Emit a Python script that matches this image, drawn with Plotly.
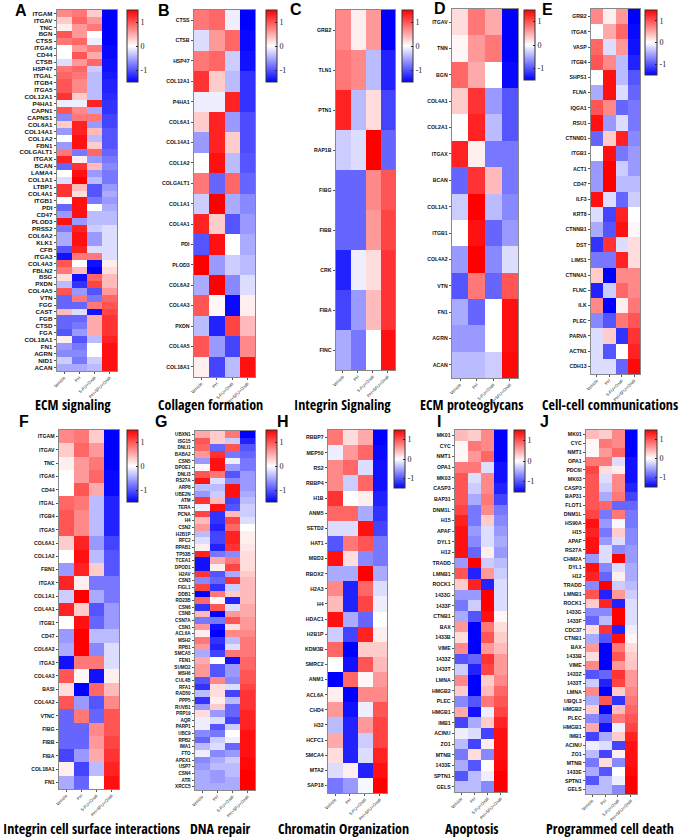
import plotly.graph_objects as go

W, H = 681, 839
cols = ["Vehicle", "PH", "5-FU+Oxali", "PH+5FU+Oxali"]

# ---------------- data ----------------
A_rows = ["ITGAM","ITGAV","TNC","BGN","CTSS","ITGA6","CD44","CTSB","HSP47","ITGAL","ITGB4","ITGA5","COL12A1","P4HA1","CAPN1","CAPNS1","COL6A1","COL14A1","COL1A2","FBN1","COLGALT1","ITGAX","BCAN","LAMA4","COL1A1","LTBP1","COL4A1","ITGB1","PDI","CD47","PLOD3","PRSS2","COL6A2","KLK1","CFB","ITGA3","COL4A3","FBLN2","BSG","PXDN","COL4A5","VTN","FGG","CAST","FGB","CTSD","FGA","COL18A1","FN1","AGRN","NID1","ACAN"]
A_vals = [[0.7,0.8,0.3,-1.5],[0.3,0.9,0.6,-1.5],[0.1,0.6,0.8,-1.5],[1.0,0.6,0.0,-1.5],[0.8,0.9,-0.1,-1.5],[0.0,0.6,0.8,-1.45],[0.0,1.0,0.5,-1.45],[-0.2,0.6,0.9,-1.4],[0.8,0.9,-0.3,-1.4],[0.9,0.8,-0.4,-1.35],[1.0,0.7,-0.4,-1.3],[1.0,0.7,-0.4,-1.3],[1.2,0.3,-0.4,-1.25],[-0.1,-0.1,1.3,-1.2],[1.0,0.7,-0.5,-1.2],[-0.7,0.8,0.8,-1.1],[0.3,1.3,-0.6,-1.1],[-0.6,1.3,0.4,-1.0],[0.0,1.4,-0.4,-1.0],[-0.6,1.4,0.3,-1.0],[0.8,-0.8,0.9,-0.9],[1.3,0.1,-0.6,-0.8],[-0.9,1.2,0.4,-0.7],[0.0,1.4,-0.6,-0.8],[-0.2,1.5,-0.4,-0.8],[1.2,0.4,-1.0,-0.6],[1.2,0.2,-1.0,-0.5],[0.0,1.4,-0.8,-0.6],[-0.9,1.4,0.0,-0.5],[-0.6,1.4,-0.4,-0.4],[1.4,-0.6,-0.4,-0.4],[-0.8,1.3,-0.3,-0.2],[-0.5,1.4,-0.6,-0.2],[-0.5,1.4,-0.6,-0.2],[-1.0,1.3,-0.2,-0.2],[-1.4,0.8,0.8,-0.2],[1.0,0.0,-1.4,0.1],[0.8,0.4,-1.5,0.2],[0.2,-1.4,0.9,0.4],[-0.4,-1.2,1.1,0.4],[1.0,-0.6,-1.0,0.6],[-0.9,0.8,-0.8,0.9],[-0.9,-0.9,0.8,1.0],[0.4,-0.2,-1.4,1.1],[-0.9,-0.9,0.5,1.2],[-0.9,-0.8,0.5,1.2],[-1.0,-0.6,0.5,1.2],[0.1,-1.0,-0.4,1.3],[-0.6,-0.8,0.0,1.4],[-0.7,-0.7,0.0,1.4],[-0.3,-0.8,-0.3,1.4],[-0.5,-0.5,-0.4,1.4]]

B_rows = ["CTSS","CTSB","HSP47","COL12A1","P4HA1","COL6A1","COL14A1","COL1A2","COLGALT1","COL1A1","COL4A1","PDI","PLOD3","COL6A2","COL4A3","PXDN","COL4A5","COL18A1"]
B_vals = [[0.8,0.9,-0.1,-1.5],[-0.2,0.6,0.9,-1.45],[0.8,0.9,-0.3,-1.4],[1.2,0.3,-0.4,-1.2],[-0.1,-0.1,1.3,-1.2],[0.3,1.3,-0.6,-1.05],[-0.6,1.3,0.3,-1.05],[0.0,1.4,-0.4,-1.0],[0.8,-0.9,0.9,-0.9],[-0.3,1.5,-0.5,-0.7],[1.3,0.3,-1.0,-0.6],[-1.0,1.4,0.0,-0.5],[1.5,-0.6,-0.3,-0.4],[-0.5,1.5,-0.7,-0.2],[1.0,0.05,-1.45,0.1],[-0.4,-1.3,1.1,0.4],[1.0,-0.6,-1.1,0.7],[0.1,-1.1,-0.4,1.4]]

C_rows = ["GRB2","TLN1","PTN1","RAP1B","FIBG","FIBB","CRK","FIBA","FINC"]
C_vals = [[0.7,0.1,0.6,-1.5],[0.8,0.7,-0.4,-1.3],[1.3,-0.4,0.2,-1.1],[-0.3,-0.2,1.5,-0.9],[-0.9,-0.9,0.7,1.0],[-0.9,-0.9,0.6,1.1],[-1.3,-0.1,0.2,1.2],[-1.1,-0.6,0.4,1.2],[-0.5,-0.8,0.0,1.4]]

D_rows = ["ITGAV","TNN","BGN","COL4A1","COL2A1","ITGAX","BCAN","COL1A1","ITGB1","COL4A2","VTN","FN1","AGRN","ACAN"]
D_vals = [[0.2,0.8,0.5,-1.5],[0.05,0.6,0.8,-1.5],[0.9,0.5,0.0,-1.45],[0.3,1.2,-0.6,-1.0],[0.0,1.3,-0.4,-1.0],[1.3,0.1,-0.8,-0.8],[-0.9,1.2,0.4,-0.8],[-0.3,1.5,-0.4,-0.7],[0.0,1.4,-0.9,-0.6],[-0.6,1.5,-0.7,-0.2],[-1.0,0.8,-0.9,1.0],[-0.5,-0.9,0.0,1.4],[-0.6,-0.6,0.0,1.4],[-0.4,-0.4,-0.3,1.45]]

E_rows = ["GRB2","ITGA6","VASP","ITGB4","SHPS1","FLNA","IQGA1","RSU1","CTNND1","ITGB1","ACT1","CD47","ILF3","KRT8","CTNNB1","DST","LIMS1","CTNNA1","FLNC","ILK","PLEC","PARVA","ACTN1","CDH13"]
E_vals = [[0.7,0.1,0.6,-1.5],[0.0,0.5,0.9,-1.45],[0.9,-0.2,0.6,-1.4],[1.0,0.7,-0.4,-1.3],[0.0,1.4,-0.4,-1.0],[-0.5,1.4,-0.2,-0.9],[1.0,0.7,-0.9,-0.8],[1.4,-0.6,-0.2,-0.8],[-0.9,0.3,1.3,-0.7],[0.0,1.4,-0.8,-0.6],[-0.6,1.5,-0.3,-0.6],[-0.6,1.5,-0.4,-0.4],[1.4,-0.2,-0.9,-0.3],[-0.2,-1.1,1.3,0.0],[-0.5,-1.0,1.4,0.05],[-1.2,1.2,-0.2,0.2],[-0.8,-0.8,1.3,0.2],[0.3,-1.5,0.7,0.7],[-1.3,-0.3,0.9,0.7],[0.7,-1.5,0.1,0.8],[-0.7,-1.0,0.8,1.0],[-0.2,0.3,-1.2,1.2],[-0.2,-1.0,0.0,1.3],[-0.2,-0.2,-0.9,1.45]]

F_rows = ["ITGAM","ITGAV","TNC","ITGA6","CD44","ITGAL","ITGB4","ITGA5","COL6A1","COL1A2","FBN1","ITGAX","COL1A1","COL4A1","ITGB1","CD47","COL6A2","ITGA3","COL4A3","BASI","COL4A2","VTNC","FIBG","FIBB","FIBA","COL18A1","FN1"]
F_vals = [[0.7,0.8,0.3,-1.5],[0.3,0.9,0.6,-1.5],[0.1,0.6,0.8,-1.5],[0.0,0.6,0.9,-1.45],[0.0,1.0,0.5,-1.45],[0.9,0.8,-0.4,-1.3],[1.0,0.7,-0.4,-1.3],[1.0,0.7,-0.4,-1.3],[0.3,1.3,-0.6,-1.1],[0.0,1.4,-0.4,-1.0],[-0.6,1.3,0.3,-1.0],[1.3,0.1,-0.8,-0.8],[-0.3,1.5,-0.5,-0.8],[1.3,0.3,-1.0,-0.6],[0.0,1.4,-0.9,-0.6],[-0.6,1.5,-0.4,-0.4],[-0.5,1.5,-0.7,-0.2],[-1.4,0.8,0.8,-0.2],[1.0,0.05,-1.4,0.1],[0.2,-1.5,0.9,0.4],[1.0,-0.6,-1.0,0.7],[-0.9,0.8,-0.9,1.0],[-0.9,-0.9,0.7,1.0],[-0.9,-0.9,0.6,1.1],[-1.1,-0.6,0.5,1.2],[0.1,-1.1,-0.4,1.3],[-0.5,-0.9,0.0,1.4]]

G_rows = ["UBXN1","ISG15","DNLI1","BABA2","CSN5","DPOE1","DNLI3","RS27A","ARP8","UBE2N","ATM","TERA","PCNA","H4","CSN2","H2B1P","RFC2","RPAB1","TP53B","TCEA1","DPOD1","H2AV","CSN3","FIGL1","DDB1","RD23B","CSN6","CSN8","CSN7A","CSN1","ACL6A","MSH2","RPB1","SMCA5","FEN1","SUMO2","MSH6","CUL4B","RFA1","RAD50","PPP5","RUVB1","PRP19","AQR","PARP1","UBC9","RPB2","IMA1","FTO","APEX1","USP7","CSN4","ATR","XRCC5"]
G_vals = [[0.5,0.3,0.8,-1.5],[1.0,0.3,-0.3,-1.3],[0.9,-0.9,1.0,-1.0],[0.6,1.2,-0.8,-0.9],[-0.6,1.4,-0.1,-0.8],[0.05,1.4,-0.6,-0.8],[1.0,0.8,-1.0,-0.6],[1.4,-0.2,-0.7,-0.6],[-0.4,-0.4,1.4,-0.6],[-0.6,-0.3,1.4,-0.5],[1.2,0.4,-1.1,-0.4],[-0.1,1.4,-1.0,-0.3],[1.1,-1.2,0.4,-0.3],[0.4,-1.2,1.1,-0.2],[0.6,-1.3,0.9,0.0],[-0.4,-1.1,1.3,0.1],[-0.2,-1.1,1.3,0.1],[0.1,-1.3,1.2,0.15],[1.3,-0.8,-0.7,0.2],[-1.4,0.5,0.8,0.2],[-1.4,0.1,1.1,0.2],[1.2,-1.0,-0.5,0.3],[-0.7,-0.9,1.2,0.4],[1.1,-1.2,-0.3,0.4],[-1.5,0.8,0.3,0.4],[0.9,0.05,-1.3,0.4],[-1.2,1.0,-0.2,0.5],[0.4,-1.5,0.6,0.5],[-0.8,-0.8,1.0,0.6],[0.6,-1.4,0.2,0.6],[0.1,-1.5,0.7,0.7],[0.8,-1.2,-0.4,0.8],[0.6,-1.3,-0.2,0.8],[-0.5,-1.1,0.8,0.8],[0.5,0.0,-1.4,0.9],[0.6,-1.0,-0.6,0.9],[0.6,-1.0,-0.6,1.0],[-1.0,0.7,-0.7,1.0],[-1.2,0.2,-0.2,1.1],[-0.4,0.2,-1.1,1.2],[-1.2,0.1,-0.4,1.2],[-0.6,0.3,-0.9,1.2],[0.2,-0.6,-0.9,1.3],[-0.1,-0.2,-1.1,1.3],[-0.1,-1.0,-0.3,1.3],[-0.7,-0.8,0.0,1.4],[-0.9,-0.3,-0.1,1.4],[-0.4,-0.2,-0.9,1.4],[-0.1,-0.7,-0.6,1.4],[-0.7,-0.5,-0.3,1.45],[-0.6,-0.4,-0.4,1.45],[-0.5,-0.6,-0.4,1.5],[-0.5,-0.6,-0.5,1.5],[-0.5,-0.5,-0.5,1.5]]

H_rows = ["RBBP7","MEP50","RS2","RBBP4","H1B","ANM5","SETD2","HAT1","MBD3","RBOX2","H2A3","H4","HDAC1","H2B1P","KDM3B","SMRC2","ANM1","ACL6A","CHD4","H32","HCFC1","SMCA4","MTA2","SAP18"]
H_vals = [[0.8,0.2,0.5,-1.5],[-0.1,0.6,0.9,-1.45],[0.7,0.9,-0.2,-1.4],[0.7,-0.3,0.9,-1.4],[1.2,0.0,0.1,-1.3],[0.9,0.9,-0.5,-1.2],[-0.2,-0.2,1.4,-1.1],[-1.0,0.8,1.0,-0.8],[1.4,0.2,-0.7,-0.8],[-0.5,-0.5,1.5,-0.5],[0.7,-1.3,0.9,-0.2],[0.4,-1.3,1.1,-0.1],[1.4,-0.5,-0.9,0.0],[-0.3,-1.1,1.3,0.1],[0.9,-1.5,0.3,0.3],[0.0,-1.4,1.0,0.4],[-1.5,0.9,0.05,0.6],[0.1,-1.5,0.7,0.7],[0.6,-1.4,-0.1,1.0],[-0.4,-1.3,0.6,1.1],[0.5,-1.3,-0.3,1.1],[0.2,-1.3,-0.2,1.3],[-0.2,0.1,-1.3,1.4],[-0.8,-0.6,-0.05,1.5]]

I_rows = ["MK01","CYC","NMT1","OPA1","MK03","CASP3","BAP31","DNM1L","H15","APAF","DYL1","H12","TRADD","LMNB1","ROCK1","1433G","1433F","CTNB1","BAX","1433B","VIME","1433Z","1433T","LMNA","HMGB2","PLEC","HMGB1","IMB1","ACINU","ZO1","MTNB","1433E","SPTN1","GELS"]
I_vals = [[0.4,0.3,0.7,-1.5],[0.05,0.8,0.7,-1.5],[0.05,0.6,0.9,-1.5],[0.8,0.8,-0.2,-1.4],[1.0,-0.2,0.7,-1.4],[1.0,-0.3,0.7,-1.3],[1.0,-0.5,0.8,-1.1],[1.1,-0.8,0.7,-0.8],[1.3,-0.8,0.3,-0.7],[1.4,-0.6,-0.2,-0.6],[1.4,-0.7,-0.2,-0.5],[1.4,-0.9,0.1,-0.6],[-0.6,1.5,-0.3,-0.4],[1.0,-1.3,0.6,-0.3],[0.3,1.3,-1.3,-0.2],[-0.6,-0.6,1.5,-0.2],[-0.8,-0.3,1.5,-0.2],[-0.5,-1.0,1.4,0.05],[0.6,-1.5,0.8,0.2],[0.2,-1.5,1.0,0.3],[0.7,-1.5,0.6,0.4],[-1.0,-0.9,1.2,0.6],[-0.3,-1.3,1.1,0.6],[0.7,-1.5,0.3,0.7],[0.3,-1.5,0.4,0.9],[-0.7,-1.0,0.8,1.0],[0.5,-1.4,-0.1,1.1],[-1.1,-0.5,0.3,1.3],[-0.1,-0.2,-1.1,1.4],[-0.4,-1.1,0.1,1.4],[-0.8,0.2,-0.7,1.4],[-0.5,-1.0,0.0,1.45],[-1.0,-0.4,-0.1,1.5],[-0.4,-0.4,-0.7,1.5]]

J_rows = ["MK01","CYC","NMT1","OPA1","PDC6I","MK03","CASP3","BAP31","FLOT1","DNM1L","HS90A","H15","APAF","RS27A","CHM2A","DYL1","H12","TRADD","LMNB1","ROCK1","1433G","1433F","CDC37","CTNB1","BAX","1433B","VIME","1433Z","1433T","LMNA","UBQL3","HMGB2","PLEC","HMGB1","IMB1","ACINU","ZO1","MTNB","1433E","SPTN1","GELS"]
J_vals = [[0.4,0.3,0.7,-1.5],[0.05,0.8,0.7,-1.5],[0.05,0.6,0.9,-1.5],[0.8,0.8,-0.2,-1.4],[1.1,0.2,0.1,-1.4],[1.0,-0.2,0.7,-1.4],[1.0,-0.3,0.7,-1.3],[1.0,-0.5,0.8,-1.1],[1.0,0.9,-0.9,-0.9],[1.1,-0.8,0.8,-0.8],[1.4,-0.6,-0.05,-0.8],[1.3,-0.8,0.3,-0.7],[1.4,-0.6,-0.2,-0.7],[1.4,-0.2,-0.7,-0.6],[-0.6,-0.2,1.5,-0.6],[1.4,-0.7,-0.2,-0.5],[1.3,-0.9,0.1,-0.5],[-0.7,1.5,-0.3,-0.4],[1.0,-1.3,0.6,-0.3],[0.3,1.3,-1.3,-0.2],[-0.7,-0.7,1.5,-0.2],[-0.9,-0.4,1.5,-0.2],[0.2,1.2,-1.3,-0.1],[-0.5,-1.0,1.4,0.05],[0.6,-1.5,0.8,0.2],[0.2,-1.5,1.0,0.3],[0.7,-1.5,0.6,0.35],[-1.0,-0.9,1.2,0.6],[-0.3,-1.3,1.1,0.6],[0.7,-1.5,0.3,0.7],[-0.5,1.0,-1.2,0.8],[0.3,-1.5,0.4,0.9],[-0.7,-1.0,0.8,1.0],[0.5,-1.4,-0.1,1.1],[-1.1,-0.5,0.3,1.3],[-0.1,-0.2,-1.1,1.4],[-0.4,-1.1,0.1,1.4],[-0.8,0.2,-0.7,1.4],[-0.5,-1.0,0.0,1.45],[-1.0,-0.4,-0.1,1.5],[-0.4,-0.4,-0.7,1.5]]

titles = ["ECM signaling","Collagen formation","Integrin Signaling","ECM proteoglycans","Cell-cell communications",
          "Integrin cell surface interactions","DNA repair","Chromatin Organization","Apoptosis","Programmed cell death"]
letters = ["A","B","C","D","E","F","G","H","I","J"]
panels = [(A_rows,A_vals),(B_rows,B_vals),(C_rows,C_vals),(D_rows,D_vals),(E_rows,E_vals),
          (F_rows,F_vals),(G_rows,G_vals),(H_rows,H_vals),(I_rows,I_vals),(J_rows,J_vals)]

TF = "Open Sans Condensed, Open Sans"
TS = 14
# ---------------- layout geometry (pixels) ----------------
geom = [
    dict(h=(52,113,10,371), cb=(123,11,10,82), let=(16,11), tit=(68,404), fs=6.2),
    dict(h=(190,252,10,377), cb=(263,11,10,82), let=(160,11), tit=(207,404), fs=5.2),
    dict(h=(333,393,10,370), cb=(400,11,10,82), let=(293,10), tit=(340,404), fs=5.2),
    dict(h=(450,517,9,378), cb=(523,11,10,80), let=(438,9), tit=(470,404), fs=5.2),
    dict(h=(590,640,9,374), cb=(645,12,10,75), let=(547,10), tit=(609,404), fs=5.2),
    dict(h=(54,115,430,789), cb=(123,11,430,502), let=(19,421), tit=(87,828), fs=5.2),
    dict(h=(191,252,431,790), cb=(263,11,430,502), let=(157,421), tit=(217,828), fs=4.6),
    dict(h=(325,385,430,793), cb=(392,11,430,488), let=(280,421), tit=(341,828), fs=5.2),
    dict(h=(453,506,430,792), cb=(513,11,430,492), let=(437,421), tit=(470,828), fs=5.2),
    dict(h=(585,637,430,794), cb=(645,12,430,487), let=(543,421), tit=(609,828), fs=5.2),
]

cscale = [[0.0, "#0000FF"], [0.5, "#FFFFFF"], [1.0, "#FF0000"]]

fig = go.Figure()
layout = dict(width=W, height=H, margin=dict(l=0, r=0, t=0, b=0),
              paper_bgcolor="white", plot_bgcolor="white", showlegend=False)
annotations = []

for i, ((rows, vals), g) in enumerate(zip(panels, geom)):
    k = "" if i == 0 else str(i + 1)
    x0, x1, y0, y1 = g["h"]
    cx, cw, cy0, cy1 = g["cb"]
    fig.add_trace(go.Heatmap(
        z=vals, x=cols, y=rows, xaxis="x" + k, yaxis="y" + k,
        colorscale=cscale, zmin=-1.5, zmax=1.5, xgap=0, ygap=0,
        colorbar=dict(x=cx / W, xanchor="left", y=1 - cy0 / H, yanchor="top",
                      len=cy1 - cy0, lenmode="pixels", thickness=cw, thicknessmode="pixels",
                      xpad=0, ypad=0, outlinewidth=1, outlinecolor="#333333",
                      tickvals=[-1, 0, 1], ticktext=["-1", "0", "1"], ticks="inside", ticklen=2,
                      tickcolor="#222", tickfont=dict(family="Liberation Serif", size=8, color="#222")),
    ))
    layout["xaxis" + k] = dict(domain=[x0 / W, x1 / W], anchor="y" + k, tickangle=-45,
                               tickfont=dict(family="Liberation Sans", size=4.3, color="#222"),
                               showline=True, mirror=True, linecolor="#888", linewidth=1,
                               ticks="outside", ticklen=1.5, tickcolor="#555", showgrid=False,
                               zeroline=False, fixedrange=True)
    layout["yaxis" + k] = dict(domain=[1 - y1 / H, 1 - y0 / H], anchor="x" + k, autorange="reversed",
                               tickfont=dict(family="Liberation Sans", size=g["fs"], color="#111", weight="bold"),
                               showline=True, mirror=True, linecolor="#888", linewidth=1,
                               ticks="outside", ticklen=2, tickcolor="#555", showgrid=False,
                               zeroline=False, fixedrange=True, dtick=1)
    lx, ly = g["let"]
    annotations.append(dict(text="<b>" + letters[i] + "</b>", x=lx / W, y=1 - ly / H, xref="paper", yref="paper",
                            showarrow=False, xanchor="center", yanchor="middle",
                            font=dict(family="Liberation Sans", size=16, color="black")))
    tx, ty = g["tit"]
    annotations.append(dict(text=titles[i], x=tx / W, y=1 - ty / H, xref="paper", yref="paper",
                            showarrow=False, xanchor="center", yanchor="middle",
                            font=dict(family=TF, size=TS, color="black", weight=600)))

layout["annotations"] = annotations
fig.update_layout(**layout)
fig.write_html("out.html")
